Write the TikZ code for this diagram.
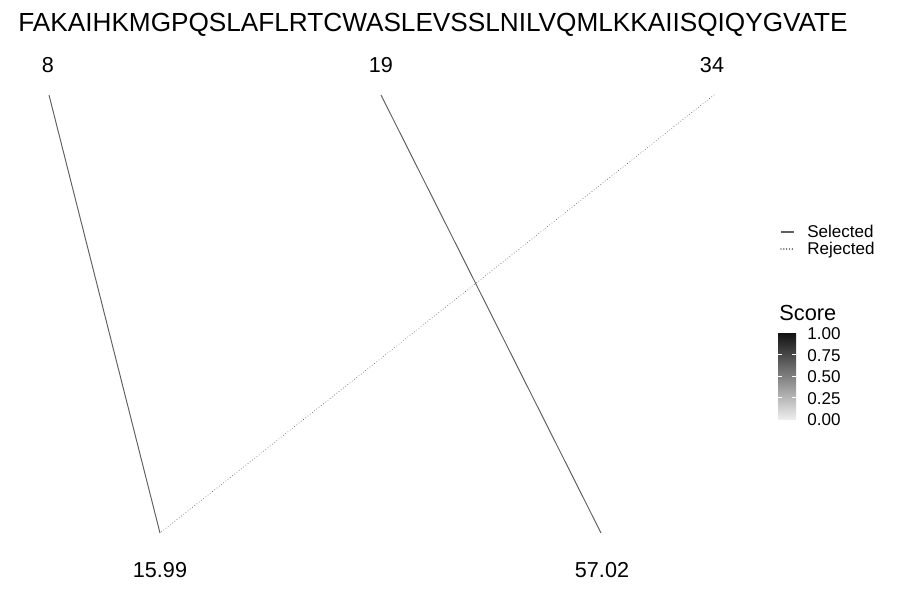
\documentclass[tikz,border=0pt]{standalone}
\usepackage{fontspec}
\setmainfont{Liberation Sans}
\begin{document}
\begin{tikzpicture}[x=0.02cm, y=-0.02cm,
  link/.style={line width=0.55pt, gray!75!black},
  rejlink/.style={link, line cap=round, dash pattern=on 0.01pt off 1.6pt},
  site/.style={anchor=base, font=\fontsize{12.3}{14}\selectfont, inner sep=0pt},
  legtext/.style={anchor=base west, font=\fontsize{9.7}{11}\selectfont, inner sep=0pt}]
\useasboundingbox (0,0) rectangle (900,600);
\node[anchor=base, inner sep=0pt, font=\fontsize{14.9}{17}\selectfont] (title) at (433,31) {FAKAIHKMGPQSLAFLRTCWASLEVSSLNILVQMLKKAIISQIQYGVATE};

% sites on top
\node[site] (s8) at (48,72) {8};
\node[site] (s19) at (381,72) {19};
\node[site] (s34) at (712,72) {34};
\coordinate (t8) at (49,95);
\coordinate (t19) at (381,95);
\coordinate (t34) at (714,95);

% masses below
\node[site] (m1599) at (160,577) {15.99};
\node[site] (m5702) at (602,577) {57.02};
\coordinate (b1599) at (160,533);
\coordinate (b5702) at (601,533);

\draw[link] (t8) -- (b1599);
\draw[link] (t19) -- (b5702);
\draw[rejlink] (t34) -- (b1599);

% legend
\coordinate (sel1) at (781,232);
\coordinate (sel2) at (794,232);
\coordinate (rej1) at (781,249);
\coordinate (rej2) at (794,249);
\draw[link, line width=0.8pt] (sel1) -- (sel2);
\draw[rejlink, line width=0.8pt] (rej1) -- (rej2);
\node[legtext] (selected) at (807,237.5) {Selected};
\node[legtext] (rejected) at (807,254.5) {Rejected};

\node[anchor=base west, inner sep=0pt, font=\fontsize{12.4}{14}\selectfont] (score) at (779,320) {Score};
\shade[top color=black!93, bottom color=white!93!black] (778,333) rectangle (796,419);
\foreach \v/\y in {0.75/354.5, 0.50/376, 0.25/397.5} {
  \draw[white, line width=0.4pt] (778,\y) -- (781.6,\y);
  \draw[white, line width=0.4pt] (792.4,\y) -- (796,\y);
}
\foreach \v/\y in {1.00/339.5, 0.75/361, 0.50/382.5, 0.25/404, 0.00/425.5}
  \node[legtext] at (807,\y) {\v};
\end{tikzpicture}
\end{document}
